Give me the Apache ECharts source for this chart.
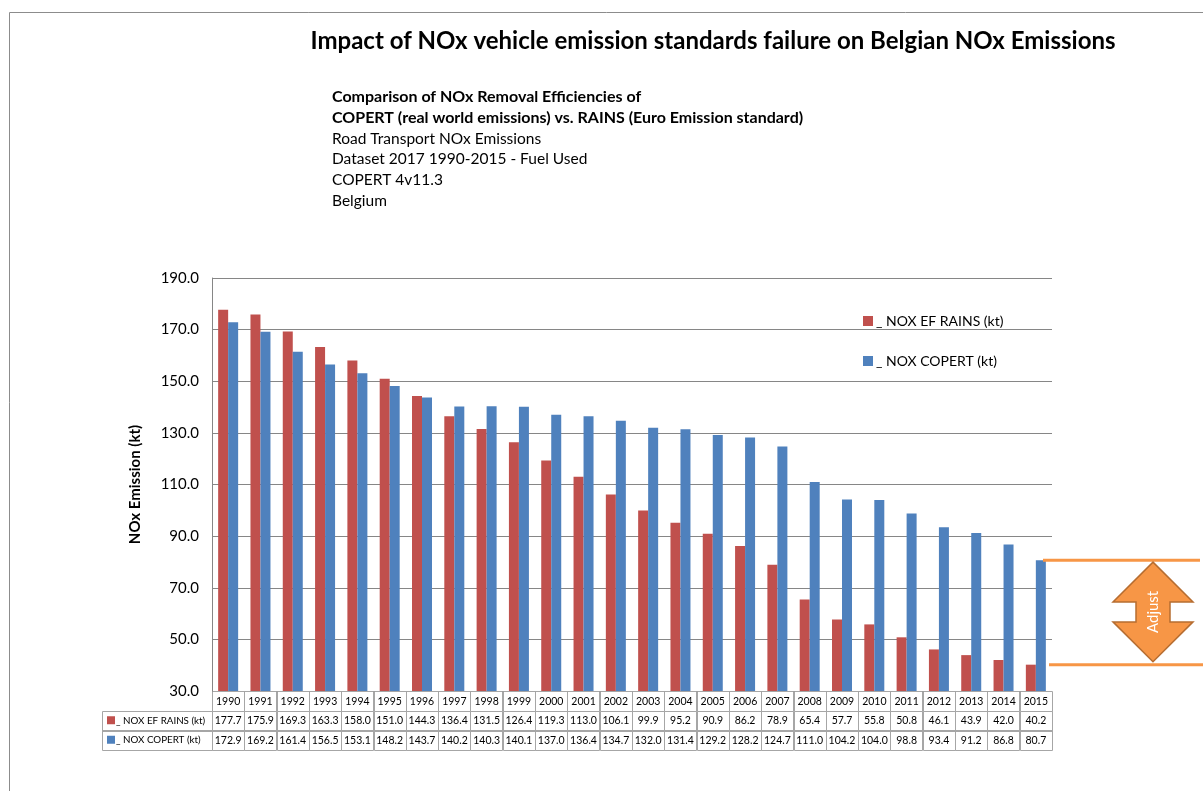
<!DOCTYPE html>
<html>
<head>
<meta charset="utf-8">
<title>Belgian NOx Emissions</title>
<script src="https://cdn.jsdelivr.net/npm/echarts@6/dist/echarts.min.js"></script>
<style>
  html, body { margin: 0; padding: 0; background: #fff; }
  #chart { width: 1203px; height: 791px; }
</style>
</head>
<body>
<div id="chart"></div>
<script>
// data
const years = ["1990", "1991", "1992", "1993", "1994", "1995", "1996", "1997", "1998", "1999",
  "2000", "2001", "2002", "2003", "2004", "2005", "2006", "2007", "2008", "2009",
  "2010", "2011", "2012", "2013", "2014", "2015"];
const rainsValues = [177.7, 175.9, 169.3, 163.3, 158.0, 151.0, 144.3, 136.4, 131.5, 126.4,
  119.3, 113.0, 106.1, 99.9, 95.2, 90.9, 86.2, 78.9, 65.4, 57.7,
  55.8, 50.8, 46.1, 43.9, 42.0, 40.2];
const copertValues = [172.9, 169.2, 161.4, 156.5, 153.1, 148.2, 143.7, 140.2, 140.3, 140.1,
  137.0, 136.4, 134.7, 132.0, 131.4, 129.2, 128.2, 124.7, 111.0, 104.2,
  104.0, 98.8, 93.4, 91.2, 86.8, 80.7];
const seriesNames = ["_ NOX EF RAINS (kt)", "_ NOX COPERT (kt)"];
const subtitleLines = [
  "Comparison of NOx Removal Efficiencies of",
  "COPERT (real world emissions) vs. RAINS (Euro Emission standard)",
  "Road Transport NOx Emissions",
  "Dataset 2017 1990-2015 - Fuel Used",
  "COPERT 4v11.3",
  "Belgium"
];

const RED = "#C0504D";
const BLUE = "#4F81BD";
const ORANGE = "#F79646";
const FONT = "Lato";
const GRID_COLOR = "#868686";
const TABLE_COLOR = "#A6A6A6";

const myChart = echarts.init(document.getElementById("chart"));

let options = {
  animation: false,
  color: [RED, BLUE],
  textStyle: { fontFamily: FONT },
  title: {
    text: "Impact of NOx vehicle emission standards failure on Belgian NOx Emissions",
    left: 708,
    top: 24,
    textAlign: "center",
    textStyle: { fontFamily: FONT, fontSize: 24, fontWeight: "bold", color: "#000" }
  },
  legend: {
    orient: "vertical",
    left: 858,
    top: 309,
    itemGap: 26,
    itemWidth: 10,
    itemHeight: 10,
    icon: "rect",
    data: seriesNames,
    textStyle: { fontFamily: FONT, fontSize: 14, color: "#000", padding: [0, 0, 0, -2] }
  },
  grid: {
    left: 212,
    right: 151,
    top: 278,
    bottom: 100
  },
  xAxis: {
    type: "category",
    data: years,
    axisLine: { show: false },
    axisTick: { show: false },
    axisLabel: { show: false }
  },
  yAxis: {
    type: "value",
    min: 30,
    max: 190,
    interval: 20,
    name: "NOx Emission (kt)",
    nameLocation: "middle",
    nameGap: 69,
    nameTextStyle: { fontFamily: FONT, fontSize: 15, fontWeight: "bold", color: "#000" },
    axisLine: { show: true, lineStyle: { color: GRID_COLOR } },
    axisTick: { show: false },
    axisLabel: {
      margin: 13,
      fontSize: 15,
      color: "#000",
      formatter: (v) => v.toFixed(1)
    },
    splitLine: { lineStyle: { color: GRID_COLOR, width: 1 } }
  },
  series: [
    {
      name: seriesNames[0],
      type: "bar",
      barWidth: 10,
      barGap: "0%",
      data: rainsValues
    },
    {
      name: seriesNames[1],
      type: "bar",
      barWidth: 10,
      barGap: "0%",
      data: copertValues
    }
  ]
};

myChart.setOption(options);

// data table + annotations, positioned from the chart's own scales
const buildGraphics = () => {
  const g = [];
  const cx = years.map((_, i) => myChart.convertToPixel({ xAxisIndex: 0 }, i));
  const cw = cx[1] - cx[0];
  const plotLeft = cx[0] - cw / 2;
  const plotRight = cx[cx.length - 1] + cw / 2;
  const y0 = myChart.convertToPixel({ yAxisIndex: 0 }, 30);
  const rowH = 19.5;
  const headLeft = 102;

  // outer chart border
  g.push({
    type: "rect",
    shape: { x: 9.5, y: 12.5, width: 1400, height: 1000 },
    style: { fill: "none", stroke: "#8C8C8C", lineWidth: 1 },
    silent: true
  });

  // subtitle block
  subtitleLines.forEach((t, i) => {
    g.push({
      type: "text",
      x: 332,
      y: 97 + i * 20.8,
      style: {
        text: t,
        fontFamily: FONT,
        fontSize: i < 2 ? 16 : 15.5,
        fontWeight: i < 2 ? "bold" : "normal",
        fill: "#000",
        verticalAlign: "middle"
      }
    });
  });

  const cell = (x, y, w, h) => ({
    type: "rect",
    shape: { x: Math.round(x) + 0.5, y: Math.round(y) + 0.5, width: Math.round(w), height: Math.round(h) },
    style: { fill: "none", stroke: TABLE_COLOR, lineWidth: 1 },
    silent: true
  });
  const label = (x, y, t, align, size) => ({
    type: "text",
    x: x,
    y: y,
    style: {
      text: t,
      fontFamily: FONT,
      fontSize: size || 10.5,
      fill: "#000",
      align: align || "center",
      verticalAlign: "middle"
    }
  });

  // year row
  years.forEach((yr, i) => {
    g.push(cell(cx[i] - cw / 2, y0, cw, rowH));
    g.push(label(cx[i], y0 + rowH / 2 + 0.5, yr));
  });

  // series rows
  const rows = [
    { name: seriesNames[0], color: RED, values: rainsValues },
    { name: seriesNames[1], color: BLUE, values: copertValues }
  ];
  rows.forEach((r, k) => {
    const top = y0 + rowH * (k + 1);
    g.push(cell(headLeft, top, plotLeft - headLeft, rowH));
    g.push({
      type: "rect",
      shape: { x: headLeft + 5, y: top + rowH / 2 - 4, width: 8, height: 8 },
      style: { fill: r.color }
    });
    g.push(label(headLeft + 14, top + rowH / 2 + 0.5, r.name, "left", 9.8));
    r.values.forEach((v, i) => {
      g.push(cell(cx[i] - cw / 2, top, cw, rowH));
      g.push(label(cx[i], top + rowH / 2 + 0.5, v.toFixed(1)));
    });
  });

  // "Adjust" markers at the 2015 values
  const last = years.length - 1;
  const yTop = myChart.convertToPixel({ yAxisIndex: 0 }, copertValues[last]);
  const yBot = myChart.convertToPixel({ yAxisIndex: 0 }, rainsValues[last]);
  g.push({
    type: "line",
    shape: { x1: plotRight - 9, y1: yTop, x2: 1200, y2: yTop },
    style: { stroke: ORANGE, lineWidth: 3 },
    z: 10
  });
  g.push({
    type: "line",
    shape: { x1: plotRight - 3, y1: yBot, x2: 1203, y2: yBot },
    style: { stroke: ORANGE, lineWidth: 3 },
    z: 10
  });

  // double arrow
  const ax = 1153;
  const top = yTop + 2;
  const bot = yBot - 3;
  const mid = (top + bot) / 2;
  const half = 40;
  const inner = 17;
  const wing = 10;
  g.push({
    type: "polygon",
    shape: {
      points: [
        [ax, top],
        [ax + half, mid - wing],
        [ax + inner, mid - wing],
        [ax + inner, mid + wing],
        [ax + half, mid + wing],
        [ax, bot],
        [ax - half, mid + wing],
        [ax - inner, mid + wing],
        [ax - inner, mid - wing],
        [ax - half, mid - wing]
      ]
    },
    style: { fill: ORANGE, stroke: "#B66D31", lineWidth: 1.5 },
    z: 11
  });
  g.push({
    type: "text",
    x: ax,
    y: mid,
    rotation: Math.PI / 2,
    style: {
      text: "Adjust",
      fontFamily: FONT,
      fontSize: 15,
      fill: "#fff",
      align: "center",
      verticalAlign: "middle"
    },
    z: 12
  });

  return g;
};

myChart.setOption({ graphic: buildGraphics() });
</script>
</body>
</html>
